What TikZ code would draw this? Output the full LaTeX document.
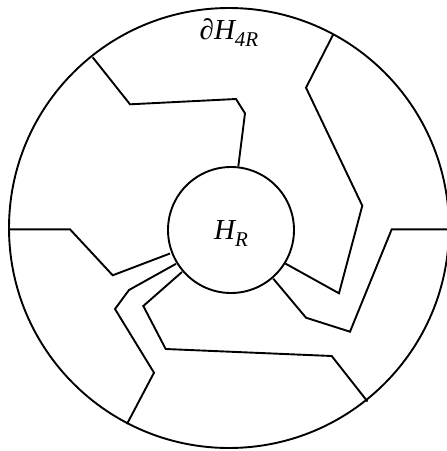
\documentclass[tikz,border=0pt]{standalone}
\usepackage{fontspec}
\setmainfont{Liberation Serif}
\newcommand{\mysub}[1]{\raisebox{-7pt}{\fontsize{21}{24}\selectfont\itshape #1}}
\begin{document}
\begin{tikzpicture}[x=1pt,y=-1pt,
  wall/.style={line width=1.9pt, line join=miter},
  lbl/.style={font=\fontsize{29}{32}\selectfont\itshape, inner sep=0pt}]
\useasboundingbox (0,0) rectangle (447,451);
\node[draw, circle, line width=1.9pt, minimum size=440pt, inner sep=0pt] (big) at (229,228) {};
\node[draw, circle, line width=1.9pt, minimum size=126pt, inner sep=0pt] (HR) at (231,230) {};
\node[lbl] (hr) at (231,233) {H\mysub{R}};
\node[lbl] (dh) at (229,33) {∂H\mysub{4R}};
% endpoints
\coordinate (a1) at (92.7,57.3);   \coordinate (b1) at (238.3,166.5);
\coordinate (a2) at (333.3,34.3);  \coordinate (b2) at (285.3,263.5);
\coordinate (a3) at (449,229.3);   \coordinate (b3) at (273.3,278.7);
\coordinate (a4) at (367.5,401.5); \coordinate (b4) at (182,272);
\coordinate (a5) at (127,424);     \coordinate (b5) at (176,263.8);
\coordinate (a6) at (9,229.3);     \coordinate (b6) at (170,253.5);
\draw[wall] (a1) -- (130,104.3) -- (236,99) -- (245,113.3) -- (b1);
\draw[wall] (a2) -- (306,87.7) -- (362.3,205.7) -- (339,293.3) -- (b2);
\draw[wall] (a3) -- (391.7,229.3) -- (350,331.7) -- (306,317.7) -- (b3);
\draw[wall] (a4) -- (331.7,356) -- (165.7,349) -- (143.3,306) -- (b4);
\draw[wall] (a5) -- (154,372.7) -- (115,309) -- (129,290) -- (b5);
\draw[wall] (a6) -- (70,229.3) -- (112.7,275.3) -- (b6);
\end{tikzpicture}
\end{document}
